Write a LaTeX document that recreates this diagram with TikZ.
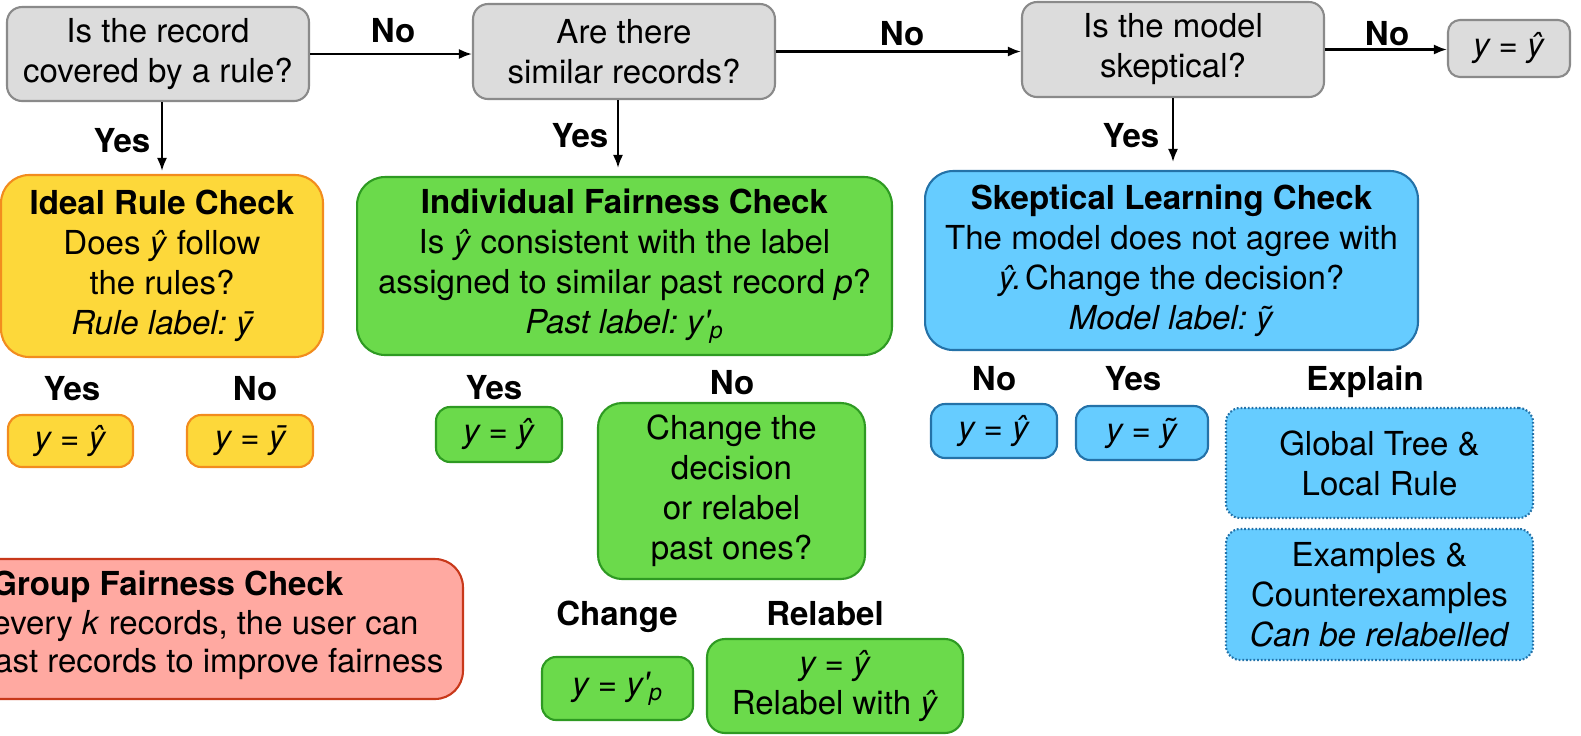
\documentclass[tikz,border=0pt]{standalone}
\usepackage{fontspec}
\setmainfont{TeX Gyre Heros}
\usetikzlibrary{arrows.meta}

\definecolor{qfill}{HTML}{DCDCDC}
\definecolor{qline}{HTML}{8A8A8A}
\definecolor{yfill}{HTML}{FDD83A}
\definecolor{yline}{HTML}{F28C1E}
\definecolor{gfill}{HTML}{6BDA4B}
\definecolor{gline}{HTML}{2E9A22}
\definecolor{bfill}{HTML}{66CCFF}
\definecolor{bline}{HTML}{2472A8}
\definecolor{rfill}{HTML}{FFA9A1}
\definecolor{rline}{HTML}{C8381A}

\newcommand\bodysize{\fontsize{18.8}{22.8}\selectfont\frenchspacing}
% italic y with a macron, built from the spacing macron glyph
\newcommand\ybar{\textit{\rlap{y}\hbox to 0.5em{\hss\kern0.12em ¯\hss}}}

\tikzset{
  box/.style={draw, line width=1.2pt, align=center, inner sep=0pt,
    font=\bodysize, text=black},
  question/.style={box, draw=qline, fill=qfill, rounded corners=0.3cm},
  ybox/.style={box, draw=yline, fill=yfill},
  gbox/.style={box, draw=gline, fill=gfill},
  bbox/.style={box, draw=bline, fill=bfill},
  rbox/.style={box, draw=rline, fill=rfill},
  big/.style={rounded corners=0.56cm},
  small/.style={rounded corners=0.28cm},
  dotborder/.style={dash pattern=on 1pt off 1.1pt},
  lbl/.style={font=\bodysize\bfseries, inner sep=0pt, anchor=base},
  gtext/.style={font=\bodysize, inner sep=0pt, anchor=base west},
  arr/.style={line width=1.2pt, -{Latex[length=0.26cm, width=0.2cm]}},
}

\begin{document}
\begin{tikzpicture}[x=0.02cm, y=-0.02cm]
\path[use as bounding box, clip] (0,0) rectangle (1581,735);

% decision questions along the top
\node[question, minimum width=6.04cm, minimum height=1.88cm] (q1) at (158,54)
  {Is the record\\covered by a rule?};
\node[question, minimum width=6.04cm, minimum height=1.9cm] (q2) at (624,51.5)
  {Are there\\similar records?};
\node[question, minimum width=6.04cm, minimum height=1.9cm] (q3) at (1173,49.5)
  {Is the model\\skeptical?};
\node[question, rounded corners=0.24cm, minimum width=2.44cm, minimum height=1.14cm] (q4) at (1509,48.5)
  {\textit{y = ŷ}};

% ideal rule check
\node[ybox, big, minimum width=6.44cm, minimum height=3.64cm] (ideal) at (162,266)
  {\textbf{Ideal Rule Check}\\Does \textit{ŷ} follow\\the rules?\\\textit{Rule label: \ybar}};
\node[ybox, small, minimum width=2.5cm, minimum height=1.04cm] (y1) at (70.5,441) {\textit{y = ŷ}};
\node[ybox, small, minimum width=2.52cm, minimum height=1.04cm] (y2) at (250,441) {\textit{y = \ybar}};

% individual fairness check
\node[gbox, big, minimum width=10.7cm, minimum height=3.56cm] (indiv) at (624.5,266)
  {\textbf{Individual Fairness Check}\\Is \textit{ŷ} consistent with the label\\assigned to similar past record \textit{p}?\\\textit{Past label: y\textquotesingle\textsubscript{p}}};
\node[gbox, small, minimum width=2.52cm, minimum height=1.1cm] (g1) at (499,434.5) {\textit{y = ŷ}};
\node[gbox, big, rounded corners=0.48cm, minimum width=5.34cm, minimum height=3.52cm] (g2) at (731.5,491)
  {Change the\\decision\\or relabel\\past ones?};
\node[gbox, small, minimum width=3.02cm, minimum height=1.26cm] (g3) at (617.5,688.5)
  {\textit{y = y\textquotesingle\textsubscript{p}}};
\node[gbox, small, rounded corners=0.36cm, minimum width=5.12cm, minimum height=1.88cm] (g4) at (835,686)
  {\textit{y = ŷ}\\Relabel with \textit{ŷ}};

% skeptical learning check
\node[bbox, big, minimum width=9.86cm, minimum height=3.58cm] (skept) at (1171.5,260.5)
  {\textbf{Skeptical Learning Check}\\The model does not agree with\\\textit{ŷ.}\kern0.1em Change the decision?\\\textit{Model label: ỹ}};
\node[bbox, small, minimum width=2.52cm, minimum height=1.08cm] (b1) at (994,431) {\textit{y = ŷ}};
\node[bbox, small, minimum width=2.64cm, minimum height=1.08cm] (b2) at (1142,433) {\textit{y = ỹ}};
\node[bbox, small, dotborder, minimum width=6.14cm, minimum height=2.2cm] (b3) at (1379.5,463)
  {Global Tree \&\\Local Rule};
\node[bbox, small, dotborder, minimum width=6.14cm, minimum height=2.62cm] (b4) at (1379.5,594.5)
  {Examples \&\\Counterexamples\\\textit{Can be relabelled}};

% group fairness check, running past the left edge
\node[rbox, big, minimum width=10.06cm, minimum height=2.8cm] (group) at (211.5,629) {};
\node[gtext] (gt1) at (-9,595) {\textbf{Group Fairness Check}};
\node[gtext] (gt2) at (-8,634) {every \textit{k} records, the user can};
\node[gtext] (gt3) at (-6,672) {ast records to improve fairness};

% connectors
\draw[arr] (q1.east) -- (q1.east -| q2.west);
\draw[arr] (q2.east) -- (q2.east -| q3.west);
\draw[arr] (q3.east) -- (q3.east -| q4.west);
\draw[arr, shorten >=0.06cm] (ideal.north |- q1.south) -- (ideal.north);
\draw[arr, shorten >=0.16cm] ([xshift=-0.12cm]q2.south) -- ([xshift=-0.12cm]q2.south |- indiv.north);
\draw[arr, shorten >=0.16cm] (q3.south) -- (q3.south |- skept.north);

% branch labels
\node[lbl] (no1) at (393,42) {No};
\node[lbl] (no2) at (902,45) {No};
\node[lbl] (no3) at (1387,45) {No};
\node[lbl] (yes1) at (122,152) {Yes};
\node[lbl] (yes2) at (580,147) {Yes};
\node[lbl] (yes3) at (1131,147) {Yes};
\node[lbl] (iy) at (72,400) {Yes};
\node[lbl] (in) at (255,400) {No};
\node[lbl] (fy) at (494,399) {Yes};
\node[lbl] (fn) at (732,394) {No};
\node[lbl] (sn) at (994,390) {No};
\node[lbl] (sy) at (1133,390) {Yes};
\node[lbl] (se) at (1365,390) {Explain};
\node[lbl] (ch) at (617,625) {Change};
\node[lbl] (rl) at (825,625) {Relabel};
\end{tikzpicture}
\end{document}
